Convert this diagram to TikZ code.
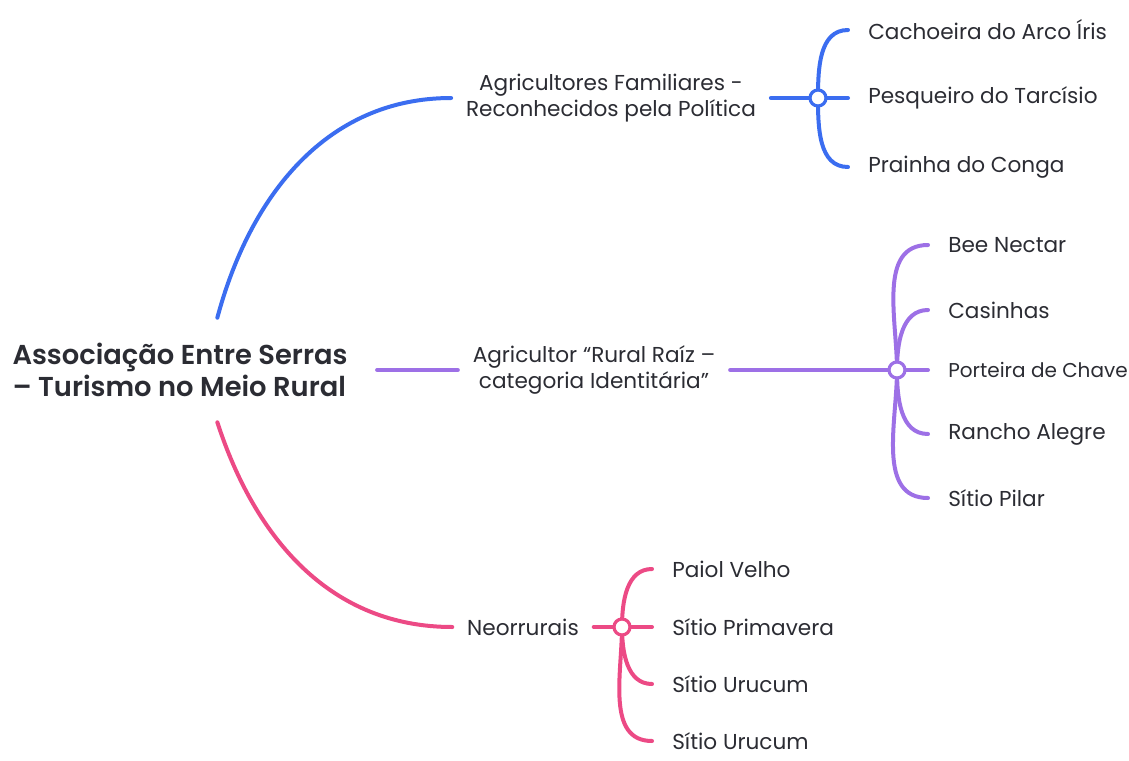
\documentclass[tikz,border=0pt]{standalone}
\usepackage{fontspec}
\setmainfont{Poppins}[BoldFont={Poppins SemiBold}]
\usetikzlibrary{positioning}
\definecolor{ink}{HTML}{2B2C33}
\definecolor{famblue}{HTML}{3B6DF0}
\definecolor{rurpurple}{HTML}{9D70E6}
\definecolor{neopink}{HTML}{EC4A85}

\begin{document}
\begin{tikzpicture}[x=0.75pt,y=0.75pt]
	\useasboundingbox (0,0) rectangle (1129,-761);
	% main topic and the three groups
	\begin{scope}[every node/.style={text=ink, font=\fontsize{16.2}{19.5}\selectfont}]
		\node[font=\bfseries\fontsize{20.5}{24}\selectfont, align=left,
			minimum height=78pt, inner xsep=22pt] (root) at (180,-370)
			{Associação Entre Serras\\– Turismo no Meio Rural};
		\node[align=center, inner xsep=11pt] (fam) at (611,-98)
			{Agricultores Familiares -\\Reconhecidos pela Política};
		\node[align=center, inner xsep=11pt] (rur) at (594,-370)
			{Agricultor “Rural Raíz –\\categoria Identitária”};
		\node[inner xsep=11pt] (neo) at (523,-627) {Neorrurais};
	\end{scope}
	% leaves
	\begin{scope}[every node/.style={anchor=west, inner xsep=15pt, text=ink,
			font=\fontsize{16.2}{19}\selectfont}]
		\node (ca) at (848,-30) {Cachoeira do Arco Íris};
		\node (cb) at (848,-98) {Pesqueiro do Tarcísio};
		\node (cc) at (848,-167) {Prainha do Conga};
		\node (pa) at (928,-245) {Bee Nectar};
		\node (pb) at (928,-310) {Casinhas};
		\node[font=\fontsize{15}{18}\selectfont] (pc) at (928,-370) {Porteira de Chave};
		\node (pd) at (928,-434) {Rancho Alegre};
		\node (pe) at (928,-498) {Sítio Pilar};
		\node (na) at (652,-569) {Paiol Velho};
		\node (nb) at (652,-627) {Sítio Primavera};
		\node (nc) at (652,-684) {Sítio Urucum};
		\node (nd) at (652,-741) {Sítio Urucum};
	\end{scope}
	\coordinate (hf) at (818,-98);
	\coordinate (hr) at (897,-370);
	\coordinate (hn) at (622,-627);

	\begin{scope}[every edge/.style={draw=famblue, line width=3pt, line cap=round}]
		\path ([xshift=28pt]root.north) edge[out=75, in=180] (fam.west);
		\path (fam.east) edge (cb.west);
		\path (hf) edge[out=90, in=180] (ca.west);
		\path (hf) edge[out=-90, in=180] (cc.west);
	\end{scope}
	\begin{scope}[every edge/.style={draw=rurpurple, line width=3pt, line cap=round}]
		\path (root.east) edge (rur.west);
		\path (rur.east) edge (pc.west);
		\path (hr) edge[out=90, in=180] (pa.west);
		\path (hr) edge[out=90, in=180] (pb.west);
		\path (hr) edge[out=-90, in=180] (pd.west);
		\path (hr) edge[out=-90, in=180] (pe.west);
	\end{scope}
	\begin{scope}[every edge/.style={draw=neopink, line width=3pt, line cap=round}]
		\path ([xshift=28pt]root.south) edge[out=-72, in=180] (neo.west);
		\path (neo.east) edge (nb.west);
		\path (hn) edge[out=90, in=180] (na.west);
		\path (hn) edge[out=-90, in=180] (nc.west);
		\path (hn) edge[out=-90, in=180] (nd.west);
	\end{scope}
	% hubs on top
	\begin{scope}[every node/.style={circle, fill=white, line width=2.4pt,
			minimum size=12pt, inner sep=0pt}]
		\node[draw=famblue] at (hf) {};
		\node[draw=rurpurple] at (hr) {};
		\node[draw=neopink] at (hn) {};
	\end{scope}
\end{tikzpicture}
\end{document}
